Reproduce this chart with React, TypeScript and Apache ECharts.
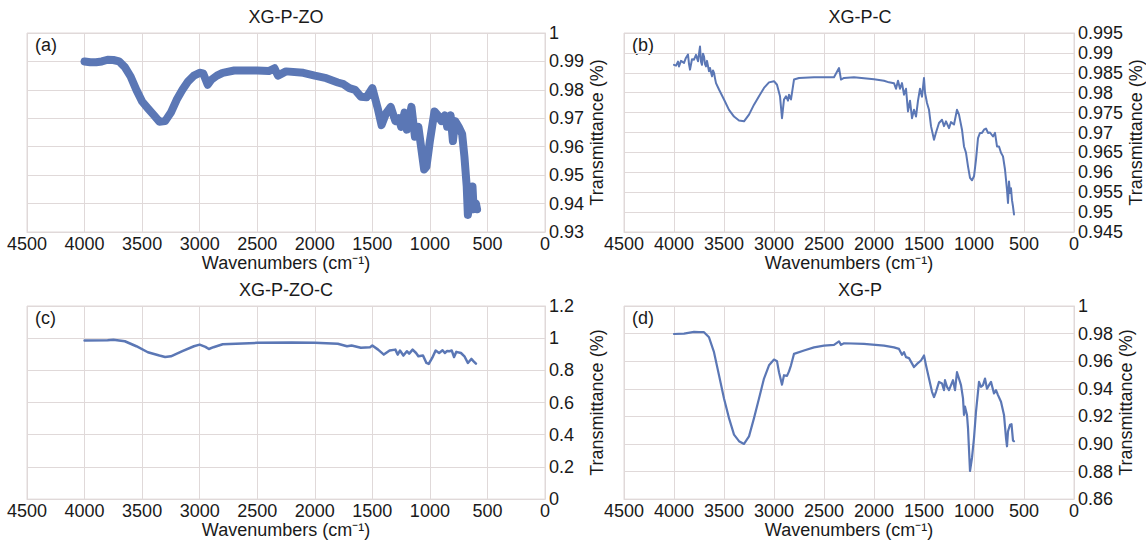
import React, { useEffect, useRef } from "react";
import * as echarts from "echarts";

const FONT = '"Liberation Sans", Arial, Helvetica, sans-serif';
const LINE = "#5b77b5";
const GRID = "#e0d9d9";
const TXT = "#1a1a1a";

const xTitle = "Wavenumbers (cm\u207B\u00B9)";
const yTitle = "Transmittance (%)";
const titles = ["XG-P-ZO", "XG-P-C", "XG-P-ZO-C", "XG-P"];
const tags = ["(a)", "(b)", "(c)", "(d)"];

// (a) XG-P-ZO
const wnA = [4000,3950,3900,3850,3800,3750,3700,3650,3600,3550,3500,3450,3400,3350,3300,3250,3200,3150,3100,3050,3000,2970,2930,2900,2850,2800,2700,2600,2500,2400,2350,2320,2250,2100,2000,1900,1800,1750,1700,1650,1600,1550,1500,1480,1450,1420,1380,1340,1300,1270,1250,1220,1200,1160,1130,1100,1080,1050,1030,1000,960,930,900,870,850,820,800,780,750,720,700,680,670,650,630,620,600,590];
const tA = [0.990,0.9897,0.9897,0.990,0.9906,0.9905,0.990,0.988,0.9847,0.980,0.9759,0.9735,0.9712,0.9688,0.969,0.972,0.9765,0.980,0.983,0.985,0.986,0.9858,0.9818,0.9835,0.985,0.986,0.9868,0.9868,0.9868,0.9866,0.9876,0.985,0.9865,0.986,0.985,0.9841,0.9826,0.982,0.9806,0.98,0.9776,0.9774,0.9806,0.9776,0.973,0.9676,0.9718,0.974,0.969,0.970,0.967,0.972,0.966,0.974,0.9635,0.967,0.961,0.952,0.953,0.962,0.9724,0.971,0.969,0.971,0.967,0.971,0.962,0.969,0.967,0.9645,0.9565,0.946,0.936,0.941,0.946,0.938,0.940,0.938];

// (b) XG-P-C
const wnB = [4000,3980,3960,3950,3930,3900,3880,3860,3850,3840,3820,3800,3780,3760,3740,3730,3720,3710,3700,3690,3680,3670,3650,3640,3620,3610,3600,3590,3580,3550,3500,3450,3400,3350,3300,3250,3200,3150,3100,3050,3000,2970,2940,2920,2900,2880,2860,2850,2830,2800,2750,2600,2400,2350,2330,2300,2200,2000,1900,1850,1800,1780,1760,1740,1720,1700,1680,1660,1640,1620,1600,1580,1560,1540,1520,1500,1490,1470,1450,1430,1400,1380,1350,1320,1300,1280,1250,1230,1200,1170,1150,1120,1100,1080,1060,1040,1020,1000,980,960,940,920,900,880,860,840,810,790,770,750,730,710,690,670,660,650,640,630,620,610,600];
const tB = [0.9870,0.9868,0.9878,0.9866,0.9880,0.9875,0.9888,0.9896,0.9872,0.9858,0.9884,0.9883,0.9895,0.9879,0.9916,0.9878,0.9870,0.9898,0.9891,0.9872,0.9866,0.9880,0.9854,0.9862,0.9841,0.9856,0.9850,0.9836,0.9824,0.9808,0.9783,0.9757,0.9740,0.9730,0.9728,0.9745,0.9770,0.9791,0.9812,0.9826,0.9829,0.9820,0.9791,0.9736,0.9783,0.9791,0.9780,0.9795,0.9783,0.9833,0.9837,0.9839,0.9839,0.9862,0.9833,0.9837,0.9839,0.9834,0.9830,0.9826,0.9824,0.9810,0.9830,0.9810,0.9824,0.9795,0.9810,0.9753,0.9780,0.9736,0.9757,0.9740,0.9780,0.9810,0.9790,0.9837,0.9800,0.9774,0.9757,0.9716,0.9682,0.9700,0.9724,0.9732,0.9716,0.9728,0.9711,0.9726,0.9720,0.9757,0.9745,0.9707,0.9665,0.9649,0.9615,0.9586,0.9580,0.9590,0.9632,0.9686,0.9699,0.9699,0.9707,0.9710,0.9699,0.9700,0.9690,0.9699,0.9665,0.9665,0.9649,0.9640,0.9607,0.9556,0.9523,0.9577,0.9548,0.9560,0.9530,0.9514,0.9494];

// (c) XG-P-ZO-C
const wnC = [4000,3800,3750,3650,3550,3450,3350,3300,3250,3150,3050,3000,2950,2920,2880,2800,2500,2200,2000,1800,1720,1680,1600,1520,1500,1450,1400,1350,1300,1280,1260,1230,1200,1180,1150,1120,1100,1060,1030,1010,980,950,920,890,870,850,830,810,790,770,730,700,670,640,620,600];
const tC = [0.985,0.9875,0.99,0.981,0.95,0.9125,0.892,0.883,0.8875,0.919,0.95,0.96,0.946,0.933,0.944,0.9625,0.971,0.973,0.971,0.965,0.95,0.954,0.94,0.944,0.954,0.929,0.898,0.923,0.929,0.898,0.923,0.892,0.919,0.904,0.929,0.908,0.8875,0.892,0.846,0.84,0.877,0.923,0.908,0.925,0.908,0.921,0.919,0.923,0.883,0.915,0.908,0.8875,0.846,0.871,0.856,0.842];

// (d) XG-P
const wnD = [4000,3900,3800,3750,3700,3650,3600,3550,3500,3450,3400,3350,3300,3250,3200,3150,3100,3050,3000,2970,2950,2920,2900,2870,2850,2830,2800,2700,2600,2500,2400,2350,2330,2300,2100,1900,1800,1750,1720,1700,1680,1650,1600,1570,1530,1500,1480,1450,1420,1400,1380,1350,1320,1300,1290,1270,1250,1230,1210,1190,1170,1150,1130,1110,1100,1090,1070,1060,1040,1020,1000,980,950,930,910,890,870,850,830,800,780,760,730,700,680,670,660,640,625,610,600];
const tD = [0.9797,0.980,0.9813,0.981,0.981,0.9773,0.9665,0.9498,0.933,0.9187,0.9067,0.902,0.900,0.9055,0.9187,0.933,0.9474,0.957,0.9612,0.960,0.952,0.943,0.9498,0.9493,0.9526,0.957,0.9653,0.9677,0.970,0.9713,0.9718,0.9744,0.9718,0.973,0.9725,0.9713,0.970,0.9689,0.9646,0.9665,0.9629,0.9622,0.9557,0.958,0.9605,0.9641,0.957,0.9474,0.9378,0.934,0.9378,0.945,0.9438,0.939,0.9462,0.9414,0.939,0.9426,0.9462,0.939,0.952,0.9474,0.9426,0.933,0.921,0.927,0.921,0.9115,0.8804,0.890,0.9043,0.9234,0.945,0.9414,0.9426,0.9474,0.940,0.9426,0.945,0.9366,0.939,0.9354,0.9306,0.921,0.9043,0.8983,0.9091,0.9139,0.9143,0.9024,0.902];

const yMins = [0.93, 0.945, 0, 0.86];
const yMaxs = [1, 0.995, 1.2, 1];
const yIntervals = [0.01, 0.005, 0.2, 0.02];
const xTicks = { min: 0, max: 4500, interval: 500 };

const wnSets = [wnA, wnB, wnC, wnD];
const tSets = [tA, tB, tC, tD];

const grids = [
  { left: 27, top: 33, width: 518, height: 199 },
  { left: 624, top: 33, width: 450, height: 199 },
  { left: 27, top: 306, width: 518, height: 196 },
  { left: 624, top: 306, width: 450, height: 196 },
];
const nameGaps = [14, 14, 12, 12];
const lineWidths = [8, 2, 2.5, 2.2];

const yFormatters = [
  (v: number) => String(+v.toFixed(2)),
  (v: number) => String(+v.toFixed(3)),
  (v: number) => String(+v.toFixed(1)),
  (v: number) => (v > 0.9999 ? "1" : v.toFixed(2)),
];

export default function App() {
  const ref = useRef<HTMLDivElement>(null);
  useEffect(() => {
    if (!ref.current) return;
    const chart = echarts.init(ref.current, undefined, { renderer: "svg" });
    const labelStyle = { color: TXT, fontSize: 18, fontFamily: FONT };
    const option: any = {
      animation: false,
      backgroundColor: "#ffffff",
      textStyle: { fontFamily: FONT },
      grid: grids.map((g) => ({ ...g, show: true, borderColor: GRID, borderWidth: 1, backgroundColor: "transparent" })),
      xAxis: grids.map((_, i) => ({
        type: "value",
        gridIndex: i,
        min: xTicks.min,
        max: xTicks.max,
        interval: xTicks.interval,
        inverse: true,
        axisLine: { show: true, lineStyle: { color: GRID, width: 1 } },
        axisTick: { show: false },
        splitLine: { show: true, lineStyle: { color: GRID, width: 1 } },
        axisLabel: { ...labelStyle, margin: 3, showMinLabel: true, showMaxLabel: true, formatter: (v: number) => String(v) },
        name: xTitle,
        nameLocation: "middle",
        nameGap: nameGaps[i],
        nameTextStyle: { ...labelStyle },
      })),
      yAxis: grids.map((_, i) => ({
        type: "value",
        gridIndex: i,
        position: "right",
        min: yMins[i],
        max: yMaxs[i],
        interval: yIntervals[i],
        axisLine: { show: true, lineStyle: { color: GRID, width: 1 } },
        axisTick: { show: false },
        splitLine: { show: true, lineStyle: { color: GRID, width: 1 } },
        axisLabel: { ...labelStyle, margin: 4, formatter: yFormatters[i], showMinLabel: true, showMaxLabel: true },
        name: yTitle,
        nameLocation: "middle",
        nameRotate: 90,
        nameGap: 43,
        nameTextStyle: { ...labelStyle },
      })),
      series: grids.map((_, i) => ({
        type: "line",
        xAxisIndex: i,
        yAxisIndex: i,
        showSymbol: false,
        symbol: "none",
        smooth: false,
        lineStyle: { color: LINE, width: lineWidths[i], join: "round", cap: "round" },
        data: wnSets[i].map((w, k) => [w, tSets[i][k]]),
      })),
      graphic: [
        ...grids.map((g, i) => ({
          type: "text",
          x: i % 2 === 0 ? 286 : 860,
          y: g.top - 16,
          style: { text: titles[i], fill: TXT, fontSize: 18, fontFamily: FONT, textAlign: "center", textVerticalAlign: "middle" },
        })),
        ...grids.map((g, i) => ({
          type: "text",
          x: g.left + 8,
          y: g.top + 12,
          style: { text: tags[i], fill: TXT, fontSize: 18, fontFamily: FONT, textAlign: "left", textVerticalAlign: "middle" },
        })),
      ],
    };
    chart.setOption(option);
    return () => chart.dispose();
  }, []);
  return (
    <div
      ref={ref}
      style={{ position: "fixed", left: 0, top: 0, width: 1146, height: 540, background: "#fff" }}
    />
  );
}
